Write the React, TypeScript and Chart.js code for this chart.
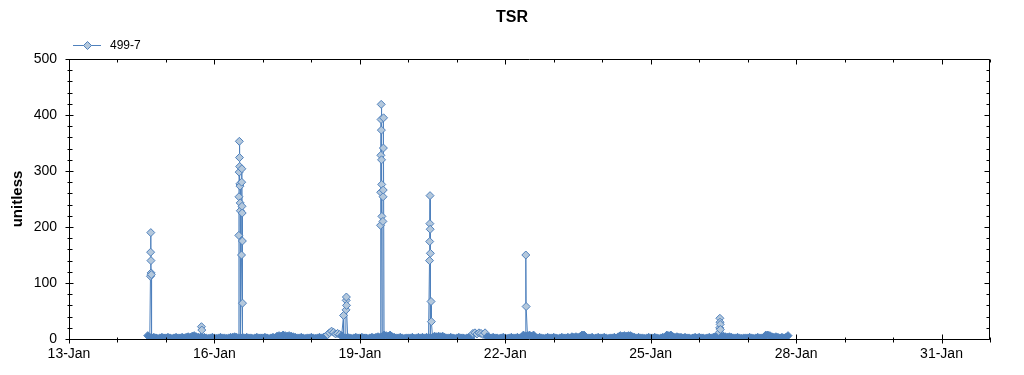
import React, { useEffect, useRef } from 'react';
import { Chart, registerables } from 'chart.js';

Chart.register(...registerables);

const chartTitle = 'TSR';
const seriesName = '499-7';
const yAxisTitle = 'unitless';
const monthLabel = 'Jan';

// x axis: day of January
const xMin = 13;
const xMax = 32;
const xMajorTicks = [13, 16, 19, 22, 25, 28, 31];
const yMin = 0;
const yMax = 500;
const yMajorStep = 100;
const yMinorStep = 20;

// hourly baseline readings (index = hour of day); 14-Jan starts at 15:00
const jan14Start = 15;
const jan14 = [6, 3, 2, 3, 2, 1, 2, 3, 2];
const jan15 = [2, 3, 2, 1, 2, 3, 2, 2, 3, 2, 3, 4, 3, 5, 6, 4, 3, 3, 2, 3, 2, 1, 2, 3];
const jan16 = [2, 1, 2, 3, 2, 2, 1, 2, 3, 3, 4, 3, 2, 2, 3, 2, 3, 2, 2, 1, 2, 3, 2, 2];
const jan17 = [2, 3, 2, 1, 2, 3, 2, 5, 6, 5, 7, 6, 5, 6, 5, 4, 3, 2, 2, 3, 2, 1, 2, 2];
const jan18 = [3, 2, 1, 2, 3, 2, 3, 4, 8, 11, 14, 12, 9, 10, 8, 6, 3, 2, 3, 2, 1, 2, 3, 2];
const jan19 = [2, 3, 2, 2, 1, 2, 3, 2, 3, 4, 3, 4, 7, 6, 5, 7, 4, 3, 2, 2, 3, 2, 1, 2];
const jan20 = [2, 2, 3, 1, 2, 3, 2, 3, 2, 3, 3, 2, 3, 5, 4, 5, 4, 5, 3, 2, 2, 3, 2, 1];
const jan21 = [2, 3, 2, 2, 1, 2, 3, 2, 10, 11, 9, 11, 10, 8, 11, 4, 3, 2, 3, 2, 2, 1, 2, 3];
const jan22 = [2, 1, 2, 3, 2, 2, 3, 2, 3, 7, 5, 6, 7, 5, 7, 3, 2, 3, 2, 1, 2, 3, 2, 2];
const jan23 = [3, 2, 1, 2, 3, 2, 2, 3, 2, 4, 3, 4, 3, 4, 7, 7, 3, 2, 2, 3, 1, 2, 3, 2];
const jan24 = [2, 3, 2, 1, 2, 2, 3, 2, 4, 6, 5, 6, 5, 6, 6, 4, 3, 2, 3, 2, 2, 1, 2, 3];
const jan25 = [2, 2, 3, 2, 1, 2, 3, 2, 7, 6, 7, 4, 3, 4, 3, 3, 2, 3, 2, 2, 1, 2, 3, 2];
const jan26 = [3, 2, 2, 1, 2, 3, 2, 3, 4, 5, 3, 4, 5, 4, 3, 4, 3, 2, 2, 3, 2, 1, 2, 2];
const jan27 = [2, 3, 2, 1, 2, 3, 2, 2, 3, 7, 7, 6, 4, 3, 4, 3, 2, 3, 2, 3, 6];

// short bursts of readings ("day hh:mm")
const spikeTimes = [
  '14 16:20', '14 16:25', '14 16:30', '14 16:35', '14 16:40', '14 16:45',
  '15 17:35', '15 17:45',
  '16 12:05', '16 12:10', '16 12:15', '16 12:20', '16 12:25', '16 12:30', '16 12:35', '16 12:40', '16 12:45', '16 12:50',
  '16 13:25', '16 13:30', '16 13:35', '16 13:40', '16 13:45', '16 13:50', '16 13:55',
  '18 15:55', '18 17:10', '18 17:15', '18 17:20', '18 17:25',
  '19 10:15', '19 10:20', '19 10:25', '19 10:30', '19 10:35', '19 10:40', '19 10:45', '19 10:50', '19 10:55',
  '19 11:25', '19 11:30', '19 11:35', '19 11:40', '19 11:45',
  '20 10:30', '20 10:35', '20 10:40', '20 10:45', '20 10:50', '20 10:55', '20 11:15', '20 11:25',
  '22 10:10', '22 10:20',
  '26 10:05', '26 10:10', '26 10:15', '26 10:20', '26 10:25', '26 10:30',
];
const spikeValues = [
  112, 155, 190, 140, 118, 115,
  22, 16,
  185, 254, 298, 353, 324, 308, 277, 273, 243, 229,
  150, 280, 304, 237, 225, 175, 64,
  42, 52, 69, 75, 60,
  203, 262, 328, 392, 419, 373, 320, 276, 219,
  210, 254, 266, 341, 395,
  140, 174, 206, 256, 196, 153, 67, 31,
  150, 58,
  12, 20, 37, 30, 26, 17,
];

const lineColor = '#4f81bd';
const markerFill = '#b4c8dc';
const fontFamily = '"Liberation Sans", Arial, sans-serif';
// overlapping markers of the dense low readings merge into a solid band
const bandLimit = 7;

function buildPoints() {
  const days = [jan14, jan15, jan16, jan17, jan18, jan19, jan20, jan21, jan22, jan23, jan24, jan25, jan26, jan27];
  const pts: { x: number; y: number }[] = [];
  days.forEach((vals, i) => {
    const day = 14 + i;
    const start = i === 0 ? jan14Start : 0;
    vals.forEach((v, k) => pts.push({ x: day + (start + k) / 24, y: v }));
  });
  spikeTimes.forEach((t, i) => {
    const [d, hm] = t.split(' ');
    const [h, m] = hm.split(':').map(Number);
    pts.push({ x: Number(d) + h / 24 + m / 1440, y: spikeValues[i] });
  });
  pts.sort((a, b) => a.x - b.x);
  return pts;
}

const framePlugin = {
  id: 'frameAndDecor',
  afterDraw(chart: any) {
    const { ctx, chartArea } = chart;
    const { left, right, top, bottom } = chartArea;
    const xs = chart.scales.x;
    const ys = chart.scales.y;
    ctx.save();
    ctx.strokeStyle = '#000';
    ctx.lineWidth = 1;
    const L = Math.round(left) + 0.5;
    const R = Math.round(right) - 0.5;
    const T = Math.round(top) + 0.5;
    const B = Math.round(bottom) + 0.5;
    ctx.beginPath();
    ctx.moveTo(L, T);
    ctx.lineTo(R, T);
    ctx.lineTo(R, B);
    ctx.lineTo(L, B);
    ctx.closePath();
    ctx.stroke();

    ctx.beginPath();
    for (let d = xMin; d <= xMax; d++) {
      const px = Math.round(xs.getPixelForValue(d)) + 0.5;
      const major = xMajorTicks.includes(d);
      if (major) {
        ctx.moveTo(px, B - 5); ctx.lineTo(px, B + 4);
        ctx.moveTo(px, T); ctx.lineTo(px, T + 5);
      } else {
        ctx.moveTo(px, B - 2); ctx.lineTo(px, B + 3);
        ctx.moveTo(px, T); ctx.lineTo(px, T + 3);
      }
    }
    for (let v = yMin; v <= yMax; v += yMinorStep) {
      const py = Math.round(ys.getPixelForValue(v)) + 0.5;
      const major = v % yMajorStep === 0;
      if (major) {
        ctx.moveTo(L - 4, py); ctx.lineTo(L + 4, py);
        ctx.moveTo(R - 5, py); ctx.lineTo(R, py);
      } else {
        ctx.moveTo(L - 2, py); ctx.lineTo(L + 3, py);
        ctx.moveTo(R - 3, py); ctx.lineTo(R, py);
      }
    }
    ctx.stroke();

    // title
    ctx.fillStyle = '#000';
    ctx.font = `bold 16px ${fontFamily}`;
    ctx.textAlign = 'center';
    ctx.textBaseline = 'middle';
    ctx.fillText(chartTitle, 512, 18);

    // legend
    ctx.strokeStyle = lineColor;
    ctx.beginPath();
    ctx.moveTo(73, 45.5);
    ctx.lineTo(101, 45.5);
    ctx.stroke();
    ctx.beginPath();
    ctx.moveTo(87.5, 41.5);
    ctx.lineTo(91.5, 45.5);
    ctx.lineTo(87.5, 49.5);
    ctx.lineTo(83.5, 45.5);
    ctx.closePath();
    ctx.fillStyle = markerFill;
    ctx.fill();
    ctx.stroke();
    ctx.fillStyle = '#000';
    ctx.font = `12px ${fontFamily}`;
    ctx.textAlign = 'left';
    ctx.fillText(seriesName, 110, 45.5);
    ctx.restore();
  },
};

export default function App() {
  const canvasRef = useRef<HTMLCanvasElement | null>(null);

  useEffect(() => {
    if (!canvasRef.current) return;
    const chart = new Chart(canvasRef.current, {
      type: 'line',
      data: {
        datasets: [
          {
            label: seriesName,
            data: buildPoints(),
            borderColor: lineColor,
            borderWidth: 1,
            backgroundColor: markerFill,
            pointStyle: 'rectRot',
            pointRadius: 4,
            pointBorderWidth: 1,
            pointBorderColor: lineColor,
            pointBackgroundColor: (c: any) =>
              c.raw && c.raw.y <= bandLimit ? lineColor : markerFill,
            tension: 0,
          },
        ],
      },
      options: {
        animation: false,
        responsive: false,
        devicePixelRatio: 1,
        events: [],
        layout: { padding: { top: 59, right: 34, left: 0, bottom: 0 } },
        plugins: {
          legend: { display: false },
          title: { display: false },
          tooltip: { enabled: false },
        },
        scales: {
          x: {
            type: 'linear',
            min: xMin,
            max: xMax,
            grid: { display: false, drawTicks: false },
            border: { display: false },
            afterBuildTicks: (scale: any) => {
              scale.ticks = xMajorTicks.map((v) => ({ value: v }));
            },
            afterFit: (scale: any) => {
              scale.height = 36;
            },
            ticks: {
              autoSkip: false,
              maxRotation: 0,
              padding: 7,
              color: '#000',
              font: { family: fontFamily, size: 14 },
              callback: (v: any) => `${v}-${monthLabel}`,
            },
          },
          y: {
            type: 'linear',
            min: yMin,
            max: yMax,
            grid: { display: false, drawTicks: false },
            border: { display: false },
            afterFit: (scale: any) => {
              scale.width = 69;
            },
            ticks: {
              stepSize: yMajorStep,
              padding: 12,
              color: '#000',
              font: { family: fontFamily, size: 14 },
            },
            title: {
              display: true,
              text: yAxisTitle,
              color: '#000',
              font: { family: fontFamily, size: 15, weight: 'bold' },
              padding: { top: 9, bottom: 0 },
            },
          },
        },
      },
      plugins: [framePlugin],
    });
    return () => chart.destroy();
  }, []);

  return (
    <div style={{ position: 'absolute', left: 0, top: 0, width: 1024, height: 375, background: '#fff' }}>
      <canvas ref={canvasRef} width={1024} height={375} style={{ display: 'block' }} />
    </div>
  );
}
